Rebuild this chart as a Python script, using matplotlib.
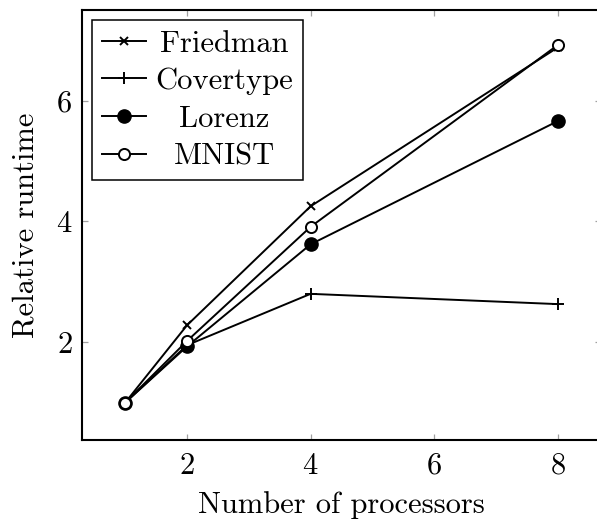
import matplotlib
matplotlib.use('Agg')
import matplotlib.pyplot as plt

plt.rcParams['font.family'] = ['cmr10', 'DejaVu Serif']
plt.rcParams['mathtext.fontset'] = 'cm'
plt.rcParams['axes.formatter.use_mathtext'] = True
plt.rcParams['font.size'] = 22

processors = [1, 2, 4, 8]
friedman = [1.0, 2.28, 4.25, 6.88]
covertype = [1.0, 1.95, 2.80, 2.63]
lorenz = [1.0, 1.93, 3.62, 5.66]
mnist = [1.0, 2.02, 3.91, 6.92]

fig = plt.figure(figsize=(5.97, 5.22), dpi=100)
ax = fig.add_axes([82/597, 1-440/522, 519/597, 430/522])

ax.plot(processors, friedman, c='k', lw=1.4, marker='x', ms=6, mew=1.4, label='Friedman')
ax.plot(processors, covertype, c='k', lw=1.4, marker='+', ms=9, mew=1.4, label='Covertype')
ax.plot(processors, lorenz, c='k', lw=1.4, marker='o', ms=9.5, label='Lorenz')
ax.plot(processors, mnist, c='k', lw=1.4, marker='o', ms=8, mfc='white', mew=1.4, label='MNIST')

ax.set_xlim(0.3, 8.7)
ax.set_ylim(0.38, 7.5)
ax.set_xticks([2, 4, 6, 8])
ax.set_yticks([2, 4, 6])
ax.tick_params(direction='in', length=4.5, width=0.9, color='#a0a0a0',
               top=True, right=True, pad=7)
ax.tick_params(axis='x', pad=9)
for s in ax.spines.values():
    s.set_linewidth(1.5)
ax.set_xlabel('Number of processors', labelpad=8)
ax.set_ylabel('Relative runtime', labelpad=12)

leg = ax.legend(loc='upper left', fancybox=False, framealpha=1, edgecolor='k',
                borderaxespad=0.33, borderpad=0.33, handlelength=1.45,
                handletextpad=0.3, labelspacing=0.33)
leg.get_frame().set_linewidth(1.1)

# centre the labels inside their column like pgfplots does
fig.canvas.draw()
widths = [t.get_window_extent().width for t in leg.get_texts()]
for t, w in zip(leg.get_texts(), widths):
    t.set_x((max(widths) - w) / 2)

fig.savefig('out.png', dpi=100)
